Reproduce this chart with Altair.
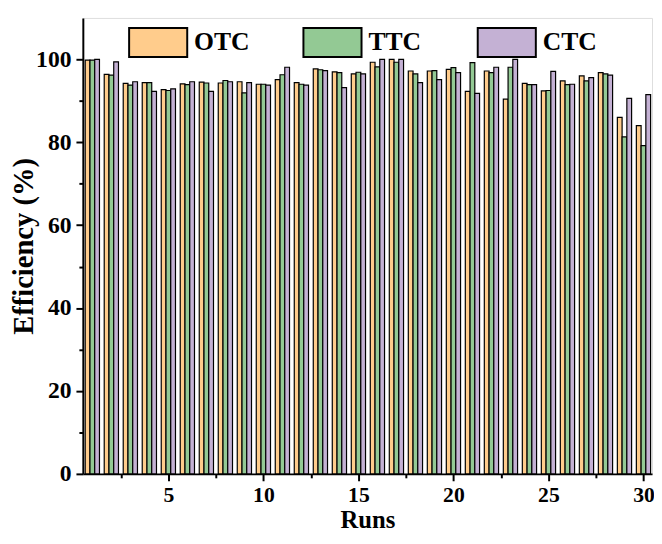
import altair as alt
import pandas as pd

runs = list(range(1, 31))
series = ["OTC", "TTC", "CTC"]
colors = ["#FFCC8C", "#93C994", "#C4B1D4"]

otc = [99.8, 96.4, 94.2, 94.4, 92.7, 94.1, 94.5, 94.3, 94.6, 94.0,
       95.1, 94.4, 97.7, 97.0, 96.5, 99.3, 100.0, 97.2, 97.2, 97.6,
       92.3, 97.2, 90.4, 94.2, 92.4, 94.8, 96.0, 96.8, 86.0, 84.0]
ttc = [99.8, 96.2, 93.8, 94.4, 92.5, 93.9, 94.3, 94.9, 91.9, 94.0,
       96.3, 94.0, 97.5, 96.8, 96.9, 98.2, 99.3, 96.5, 97.3, 98.0,
       99.2, 96.8, 98.1, 93.9, 92.5, 93.9, 94.8, 96.5, 81.3, 79.2]
ctc = [100.0, 99.4, 94.6, 92.3, 92.9, 94.6, 92.3, 94.6, 94.4, 93.8,
       98.1, 93.8, 97.3, 93.2, 96.5, 100.0, 100.0, 94.4, 95.1, 96.8,
       91.8, 98.1, 100.0, 93.9, 97.1, 94.0, 95.6, 96.2, 90.6, 91.5]

x_major = [5, 10, 15, 20, 25, 30]
x_minor = [2.5, 7.5, 12.5, 17.5, 22.5, 27.5]
y_major = [0, 20, 40, 60, 80, 100]
y_minor = [10, 30, 50, 70, 90]

rows = []
for k, (name, vals) in enumerate(zip(series, [otc, ttc, ctc])):
    for r, v in zip(runs, vals):
        rows.append({"run": r, "series": name, "idx": k, "value": v})
df = pd.DataFrame(rows)

FONT = "Liberation Serif"

base = alt.Chart(df).transform_calculate(
    x0="datum.run + (datum.idx - 1) * 0.25 - 0.125",
    x1="datum.run + (datum.idx - 1) * 0.25 + 0.125",
)

xscale = alt.Scale(domain=[0.5, 30.45], nice=False, zero=False)
yscale = alt.Scale(domain=[0, 110], nice=False)

bars = base.mark_bar(stroke="black", strokeWidth=1.2).encode(
    x=alt.X("x0:Q", scale=xscale,
            axis=alt.Axis(orient="bottom", values=x_major, title="Runs", grid=False,
                          tickSize=7, tickWidth=2, domainWidth=2, domainColor="black",
                          tickColor="black", labelFont=FONT, labelFontSize=22,
                          labelFontWeight="bold", labelColor="black", labelPadding=4,
                          titleFont=FONT, titleFontSize=25, titleFontWeight="bold",
                          titleColor="black", titlePadding=2, labelFlush=False)),
    x2="x1:Q",
    y=alt.Y("value:Q", scale=yscale,
            axis=alt.Axis(orient="left", values=y_major, title="Efficiency (%)", grid=False,
                          tickSize=7, tickWidth=2, domainWidth=2, domainColor="black",
                          tickColor="black", labelFont=FONT, labelFontSize=24,
                          labelFontWeight="bold", labelColor="black", labelPadding=5,
                          titleFont=FONT, titleFontSize=29, titleFontWeight="bold",
                          titleColor="black", titlePadding=-3)),
    y2=alt.datum(0),
    fill=alt.Fill("series:N", scale=alt.Scale(domain=series, range=colors),
                  legend=alt.Legend(orient="none", legendX=46, legendY=-6,
                                    direction="horizontal", title=None,
                                    symbolType="M-1,-0.5H1V0.5H-1Z", symbolSize=3481,
                                    symbolStrokeColor="black", symbolStrokeWidth=2,
                                    symbolOpacity=1,
                                    labelFont=FONT, labelFontSize=26, labelFontWeight="bold",
                                    labelColor="black", labelOffset=6,
                                    columnPadding=50, gridAlign="all")),
)

minor = base.mark_bar(opacity=0).encode(
    x=alt.X("x0:Q", scale=xscale,
            axis=alt.Axis(orient="bottom", values=x_minor, title=None, labels=False,
                          domain=False, grid=False, tickSize=4, tickWidth=2,
                          tickColor="black")),
    x2="x1:Q",
    y=alt.Y("value:Q", scale=yscale,
            axis=alt.Axis(orient="left", values=y_minor, title=None, labels=False,
                          domain=False, grid=False, tickSize=4, tickWidth=2,
                          tickColor="black")),
    y2=alt.datum(0),
)

chart = alt.layer(bars, minor).resolve_axis(x="independent", y="independent").properties(
    width=656, height=528,
    padding={"left": 2, "right": 0, "top": 6, "bottom": 0},
    autosize=alt.AutoSizeParams(type="fit", contains="padding"),
).configure_view(stroke="black", strokeWidth=2).configure(background="white")

chart.save("out.html", embed_options={"renderer": "svg", "actions": False})
